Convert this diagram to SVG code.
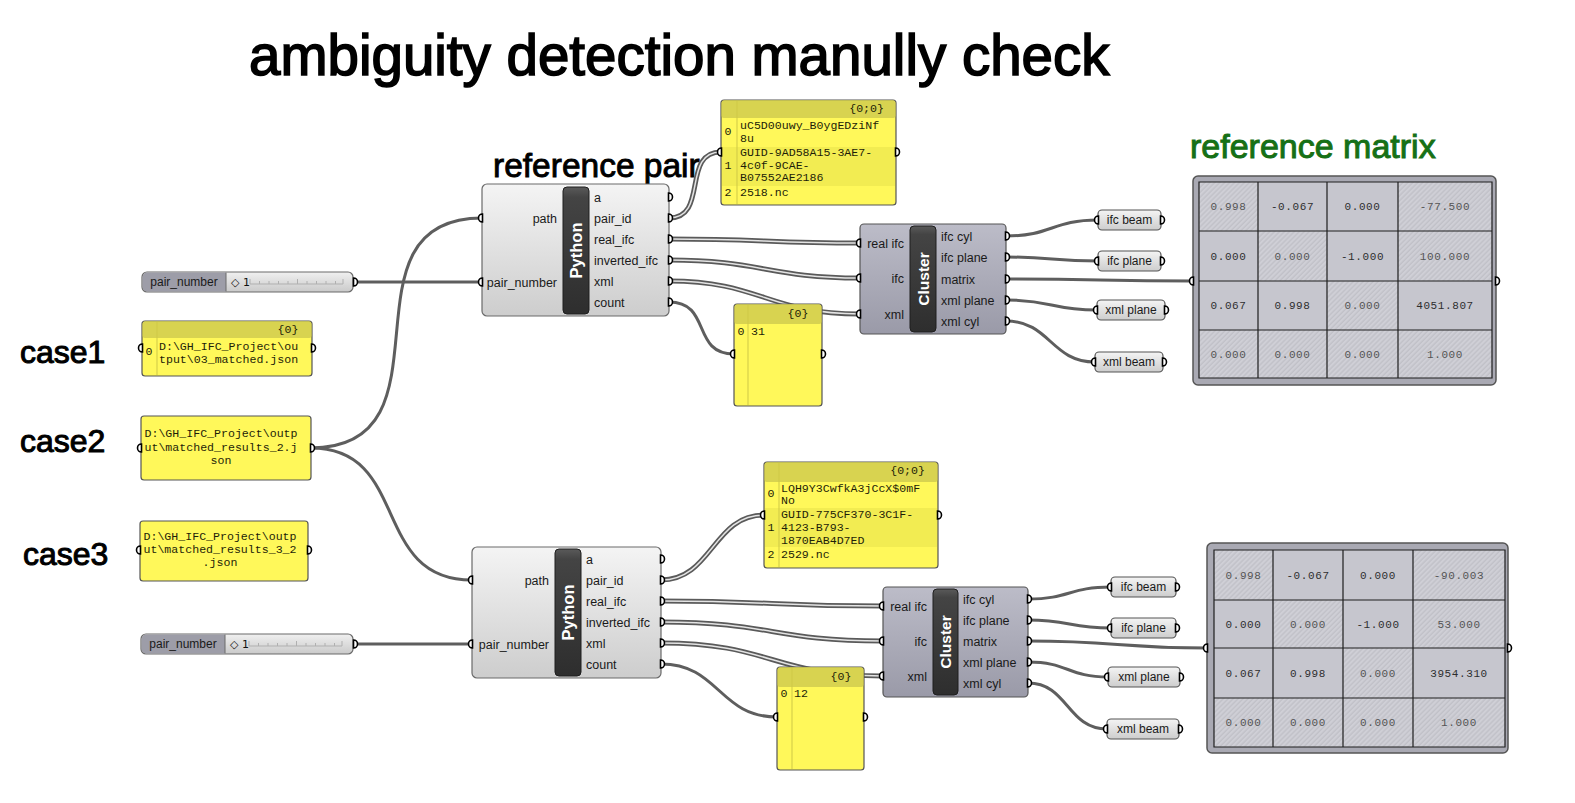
<svg xmlns="http://www.w3.org/2000/svg" width="1575" height="803" viewBox="0 0 1575 803">
<defs>
<style>
.ttl{font-family:"Liberation Sans",Arial,sans-serif;fill:#000;stroke:#000}
.lbl{font-family:"Liberation Sans",Arial,sans-serif;font-size:12.5px;fill:#1a1a1a}
.sm{font-family:"Liberation Sans",Arial,sans-serif;font-size:12px;fill:#1a1a1a}
.bar{font-family:"Liberation Sans",Arial,sans-serif;font-weight:bold;fill:#fff;text-anchor:middle}
.mono{font-family:"Liberation Mono","Courier New",monospace;font-size:11.6px;fill:#1e1e08}
.mx{font-family:"Liberation Mono","Courier New",monospace;font-size:11px;letter-spacing:0.6px;text-anchor:middle;fill:#2e2e2e}
.mxl{fill:#555}
.w{fill:none;stroke:#5e5e5e;stroke-width:3}
.wd1{fill:none;stroke:#5a5a5a;stroke-width:5}
.wd2{fill:none;stroke:#e4e4e4;stroke-width:1.5}
.comp{fill:url(#gComp);stroke:#6a6a6a;stroke-width:1.2}
.clus{fill:url(#gClus);stroke:#555;stroke-width:1.2}
.dbar{fill:url(#gBar);stroke:#1e1e1e;stroke-width:1}
.pan{fill:#fff85a;stroke:#555;stroke-width:1.2}
.hdr{fill:#d8d350}
.band{fill:#f2ec52}
.sep{stroke:#cfc947;stroke-width:1}
.box{fill:url(#gComp);stroke:#555;stroke-width:1.2}
.grid{fill:none;stroke:#1e1e1e;stroke-width:1.2}
.frame{fill:#a9a9b3;stroke:#555;stroke-width:1.5}
.plain{fill:#c6c6ce}
.hat{fill:url(#hatch)}
</style>
<linearGradient id="gComp" x1="0" y1="0" x2="0" y2="1"><stop offset="0" stop-color="#f4f4f4"/><stop offset="1" stop-color="#cdcdcd"/></linearGradient>
<linearGradient id="gClus" x1="0" y1="0" x2="0" y2="1"><stop offset="0" stop-color="#bcbcc8"/><stop offset="1" stop-color="#9a9aa8"/></linearGradient>
<linearGradient id="gBar" x1="0" y1="0" x2="0" y2="1"><stop offset="0" stop-color="#5a5a5a"/><stop offset="0.08" stop-color="#444"/><stop offset="1" stop-color="#2e2e2e"/></linearGradient>
<linearGradient id="gSl" x1="0" y1="0" x2="0" y2="1"><stop offset="0" stop-color="#f0f0f0"/><stop offset="1" stop-color="#cacaca"/></linearGradient>
<pattern id="hatch" width="3.5" height="3.5" patternUnits="userSpaceOnUse" patternTransform="rotate(45)"><rect width="3.5" height="3.5" fill="#cfcfd6"/><line x1="1" y1="0" x2="1" y2="3.5" stroke="#bbbbc3" stroke-width="1"/></pattern>
<path id="pi" d="M0.5,-4 A4,4 0 0 0 0.5,4 Z" fill="#fff" stroke="#000" stroke-width="1.6"/>
<path id="po" d="M-0.5,-4 A4,4 0 0 1 -0.5,4 Z" fill="#fff" stroke="#000" stroke-width="1.6"/>
</defs>
<rect width="1575" height="803" fill="#fff"/>

<g id="annotations">
<text class="ttl" x="249" y="75" font-size="56.5" stroke-width="1.6">ambiguity detection manully check</text>
<text class="ttl" x="493" y="177" font-size="33.5" stroke-width="0.9">reference pair</text>
<text x="1190" y="158" font-family="Liberation Sans,Arial,sans-serif" font-size="34" fill="#167016" stroke="#167016" stroke-width="1">reference matrix</text>
<text class="ttl" x="20" y="363" font-size="32" stroke-width="1">case1</text>
<text class="ttl" x="20" y="452" font-size="32" stroke-width="1">case2</text>
<text class="ttl" x="23" y="565" font-size="32" stroke-width="1">case3</text>
</g>

<g id="connectors">
<path class="w" d="M311,448 C461,448 332,218 482,218"/>
<path class="w" d="M311,448 C411,448 370,580 472,580"/>
<path class="w" d="M355,282 L482,282"/>
<path class="w" d="M353,644 L472,644"/>
<path class="w" d="M669,302 C712,302 691,354 734,354"/>
<path class="w" d="M661,664 C719,664 719,717 777,717"/>
<g>
<path class="wd1" d="M669,218 C709,218 681,152 721,152"/><path class="wd2" d="M669,218 C709,218 681,152 721,152"/>
<path class="wd1" d="M669,239 C760,239 769,243 860,243"/><path class="wd2" d="M669,239 C760,239 769,243 860,243"/>
<path class="wd1" d="M669,260 C760,260 769,278 860,278"/><path class="wd2" d="M669,260 C760,260 769,278 860,278"/>
<path class="wd1" d="M669,281 C760,281 769,314 860,314"/><path class="wd2" d="M669,281 C760,281 769,314 860,314"/>
<path class="wd1" d="M661,580 C712,580 713,515 764,515"/><path class="wd2" d="M661,580 C712,580 713,515 764,515"/>
<path class="wd1" d="M661,601 C772,601 772,606 883,606"/><path class="wd2" d="M661,601 C772,601 772,606 883,606"/>
<path class="wd1" d="M661,622 C772,622 772,641 883,641"/><path class="wd2" d="M661,622 C772,622 772,641 883,641"/>
<path class="wd1" d="M661,643 C772,643 772,676 883,676"/><path class="wd2" d="M661,643 C772,643 772,676 883,676"/>
</g>
<path class="w" d="M1006,236 C1052,236 1052,220 1098,220"/>
<path class="w" d="M1006,257 C1052,257 1052,261 1098,261"/>
<path class="w" d="M1006,279 C1100,279 1100,281 1193,281"/>
<path class="w" d="M1006,300 C1052,300 1051,310 1097,310"/>
<path class="w" d="M1006,321 C1050,321 1051,362 1095,362"/>
<path class="w" d="M1028,599 C1070,599 1069,587 1111,587"/>
<path class="w" d="M1028,620 C1070,620 1069,628 1111,628"/>
<path class="w" d="M1028,641 C1118,641 1117,648 1207,648"/>
<path class="w" d="M1028,662 C1068,662 1068,677 1108,677"/>
<path class="w" d="M1028,683 C1068,683 1067,729 1107,729"/>
</g>

<g id="slider1">
<rect x="142" y="272" width="211" height="20" rx="5" fill="url(#gSl)" stroke="#6a6a6a" stroke-width="1.2"/>
<path d="M147,272.6 H226 V291.4 H147 A4.4,4.4 0 0 1 142.6,287 V277 A4.4,4.4 0 0 1 147,272.6 Z" fill="#9d9da8"/>
<line x1="226" y1="272.6" x2="226" y2="291.4" stroke="#6a6a6a"/>
<text class="sm" x="184" y="286" text-anchor="middle">pair_number</text>
<text x="231" y="286" font-family="DejaVu Sans,Liberation Sans,sans-serif" font-size="11" fill="#111">◇ 1</text>
<path d="M250,284 H343 M250,279 V284 M259.5,281 V284 M269,281 V284 M278.5,281 V284 M288,281 V284 M297.5,279 V284 M307,281 V284 M316.5,281 V284 M326,281 V284 M335.5,281 V284 M343,279 V284" stroke="#b0b0b0" stroke-width="1" fill="none"/>
<use href="#po" x="354" y="282"/>
</g>
<g id="slider2">
<rect x="141" y="634" width="212" height="20" rx="5" fill="url(#gSl)" stroke="#6a6a6a" stroke-width="1.2"/>
<path d="M146,634.6 H225 V653.4 H146 A4.4,4.4 0 0 1 141.6,649 V639 A4.4,4.4 0 0 1 146,634.6 Z" fill="#9d9da8"/>
<line x1="225" y1="634.6" x2="225" y2="653.4" stroke="#6a6a6a"/>
<text class="sm" x="183" y="648" text-anchor="middle">pair_number</text>
<text x="230" y="648" font-family="DejaVu Sans,Liberation Sans,sans-serif" font-size="11" fill="#111">◇ 1</text>
<path d="M249,646 H342 M249,641 V646 M258.5,643 V646 M268,643 V646 M277.5,643 V646 M287,643 V646 M296.5,641 V646 M306,643 V646 M315.5,643 V646 M325,643 V646 M334.5,643 V646 M342,641 V646" stroke="#b0b0b0" stroke-width="1" fill="none"/>
<use href="#po" x="354" y="644"/>
</g>

<g id="case1">
<rect class="pan" x="142" y="321" width="170" height="55" rx="3"/>
<rect class="hdr" x="142.6" y="321.6" width="168.8" height="16.4" rx="2"/>
<line class="sep" x1="157" y1="322" x2="157" y2="375"/>
<text class="mono" x="288" y="333" text-anchor="middle" font-size="11">{0}</text>
<text class="mono" x="149" y="355" text-anchor="middle" font-size="10">0</text>
<text class="mono" x="159" y="350">D:\GH_IFC_Project\ou</text>
<text class="mono" x="159" y="363">tput\03_matched.json</text>
<use href="#pi" x="142" y="348"/><use href="#po" x="312" y="348"/>
</g>
<g id="case2">
<rect class="pan" x="141" y="416" width="170" height="64" rx="3"/>
<text class="mono" x="221" y="437" text-anchor="middle">D:\GH_IFC_Project\outp</text>
<text class="mono" x="221" y="451" text-anchor="middle">ut\matched_results_2.j</text>
<text class="mono" x="221" y="464" text-anchor="middle">son</text>
<use href="#pi" x="141" y="448"/><use href="#po" x="311" y="448"/>
</g>
<g id="case3">
<rect class="pan" x="140" y="521" width="168" height="60" rx="3"/>
<text class="mono" x="220" y="540" text-anchor="middle">D:\GH_IFC_Project\outp</text>
<text class="mono" x="220" y="553" text-anchor="middle">ut\matched_results_3_2</text>
<text class="mono" x="220" y="566" text-anchor="middle">.json</text>
<use href="#pi" x="140" y="550"/><use href="#po" x="308" y="550"/>
</g>

<g id="python1">
<rect class="comp" x="482" y="184" width="187" height="132" rx="5"/>
<rect class="dbar" x="563" y="187" width="26" height="127" rx="4"/>
<text class="bar" font-size="16.5" transform="translate(582,250.5) rotate(-90)">Python</text>
<text class="lbl" x="557" y="222.5" text-anchor="end">path</text>
<text class="lbl" x="557" y="286.5" text-anchor="end">pair_number</text>
<text class="lbl" x="594" y="201.5">a</text>
<text class="lbl" x="594" y="222.5">pair_id</text>
<text class="lbl" x="594" y="243.5">real_ifc</text>
<text class="lbl" x="594" y="264.5">inverted_ifc</text>
<text class="lbl" x="594" y="285.5">xml</text>
<text class="lbl" x="594" y="306.5">count</text>
<use href="#pi" x="482" y="218"/><use href="#pi" x="482" y="282"/>
<use href="#po" x="669" y="197"/><use href="#po" x="669" y="218"/><use href="#po" x="669" y="239"/><use href="#po" x="669" y="260"/><use href="#po" x="669" y="281"/><use href="#po" x="669" y="302"/>
</g>

<g id="python2">
<rect class="comp" x="472" y="547" width="189" height="131" rx="5"/>
<rect class="dbar" x="555" y="549" width="26" height="127" rx="4"/>
<text class="bar" font-size="16.5" transform="translate(574,612.5) rotate(-90)">Python</text>
<text class="lbl" x="549" y="584.5" text-anchor="end">path</text>
<text class="lbl" x="549" y="648.5" text-anchor="end">pair_number</text>
<text class="lbl" x="586" y="563.5">a</text>
<text class="lbl" x="586" y="584.5">pair_id</text>
<text class="lbl" x="586" y="605.5">real_ifc</text>
<text class="lbl" x="586" y="626.5">inverted_ifc</text>
<text class="lbl" x="586" y="647.5">xml</text>
<text class="lbl" x="586" y="668.5">count</text>
<use href="#pi" x="472" y="580"/><use href="#pi" x="472" y="644"/>
<use href="#po" x="661" y="559"/><use href="#po" x="661" y="580"/><use href="#po" x="661" y="601"/><use href="#po" x="661" y="622"/><use href="#po" x="661" y="643"/><use href="#po" x="661" y="664"/>
</g>

<g id="pairPanel1">
<rect class="pan" x="721" y="100" width="175" height="105" rx="3"/>
<rect class="hdr" x="721.6" y="100.6" width="173.8" height="17.4" rx="2"/>
<rect class="band" x="722" y="147" width="173" height="39"/>
<line class="sep" x1="737" y1="101" x2="737" y2="204"/>
<text class="mono" x="884" y="112" text-anchor="end" font-size="11">{0;0}</text>
<text class="mono" x="728" y="135" text-anchor="middle" font-size="10">0</text>
<text class="mono" x="740" y="129">uC5D00uwy_B0ygEDziNf</text>
<text class="mono" x="740" y="142">8u</text>
<text class="mono" x="728" y="169" text-anchor="middle" font-size="10">1</text>
<text class="mono" x="740" y="156">GUID-9AD58A15-3AE7-</text>
<text class="mono" x="740" y="169">4c0f-9CAE-</text>
<text class="mono" x="740" y="181">B07552AE2186</text>
<text class="mono" x="728" y="196" text-anchor="middle" font-size="10">2</text>
<text class="mono" x="740" y="196">2518.nc</text>
<use href="#pi" x="721" y="152"/><use href="#po" x="896" y="152"/>
</g>

<g id="pairPanel2">
<rect class="pan" x="764" y="462" width="174" height="106" rx="3"/>
<rect class="hdr" x="764.6" y="462.6" width="172.8" height="19.4" rx="2"/>
<rect class="band" x="765" y="508" width="172" height="39"/>
<line class="sep" x1="779" y1="463" x2="779" y2="567"/>
<text class="mono" x="925" y="474" text-anchor="end" font-size="11">{0;0}</text>
<text class="mono" x="771" y="497" text-anchor="middle" font-size="10">0</text>
<text class="mono" x="781" y="492">LQH9Y3CwfkA3jCcX$0mF</text>
<text class="mono" x="781" y="504">No</text>
<text class="mono" x="771" y="531" text-anchor="middle" font-size="10">1</text>
<text class="mono" x="781" y="518">GUID-775CF370-3C1F-</text>
<text class="mono" x="781" y="531">4123-B793-</text>
<text class="mono" x="781" y="544">1870EAB4D7ED</text>
<text class="mono" x="771" y="558" text-anchor="middle" font-size="10">2</text>
<text class="mono" x="781" y="558">2529.nc</text>
<use href="#pi" x="764" y="515"/><use href="#po" x="938" y="515"/>
</g>

<g id="countPanel1">
<rect class="pan" x="734" y="304" width="88" height="102" rx="3"/>
<rect class="hdr" x="734.6" y="304.6" width="86.8" height="19.4" rx="2"/>
<line class="sep" x1="748" y1="305" x2="748" y2="405"/>
<text class="mono" x="798" y="317" text-anchor="middle" font-size="11">{0}</text>
<text class="mono" x="741" y="335" text-anchor="middle" font-size="10">0</text>
<text class="mono" x="751" y="335">31</text>
<use href="#pi" x="734" y="354"/><use href="#po" x="822" y="354"/>
</g>
<g id="countPanel2">
<rect class="pan" x="777" y="667" width="87" height="103" rx="3"/>
<rect class="hdr" x="777.6" y="667.6" width="85.8" height="19.4" rx="2"/>
<line class="sep" x1="792" y1="668" x2="792" y2="769"/>
<text class="mono" x="841" y="680" text-anchor="middle" font-size="11">{0}</text>
<text class="mono" x="784" y="697" text-anchor="middle" font-size="10">0</text>
<text class="mono" x="794" y="697">12</text>
<use href="#pi" x="777" y="717"/><use href="#po" x="864" y="717"/>
</g>

<g id="cluster1">
<rect class="clus" x="860" y="224" width="146" height="110" rx="4"/>
<rect class="dbar" x="910" y="226" width="26" height="106" rx="4"/>
<text class="bar" font-size="15.5" transform="translate(928.5,279) rotate(-90)">Cluster</text>
<text class="lbl" x="904" y="247.5" text-anchor="end">real ifc</text>
<text class="lbl" x="904" y="282.5" text-anchor="end">ifc</text>
<text class="lbl" x="904" y="318.5" text-anchor="end">xml</text>
<text class="lbl" x="941" y="240.5">ifc cyl</text>
<text class="lbl" x="941" y="261.5">ifc plane</text>
<text class="lbl" x="941" y="283.5">matrix</text>
<text class="lbl" x="941" y="304.5">xml plane</text>
<text class="lbl" x="941" y="325.5">xml cyl</text>
<use href="#pi" x="860" y="243"/><use href="#pi" x="860" y="278"/><use href="#pi" x="860" y="314"/>
<use href="#po" x="1006" y="236"/><use href="#po" x="1006" y="257"/><use href="#po" x="1006" y="279"/><use href="#po" x="1006" y="300"/><use href="#po" x="1006" y="321"/>
</g>
<g id="cluster2">
<rect class="clus" x="883" y="587" width="145" height="110" rx="4"/>
<rect class="dbar" x="933" y="589" width="25" height="106" rx="4"/>
<text class="bar" font-size="15.5" transform="translate(951,642) rotate(-90)">Cluster</text>
<text class="lbl" x="927" y="610.5" text-anchor="end">real ifc</text>
<text class="lbl" x="927" y="645.5" text-anchor="end">ifc</text>
<text class="lbl" x="927" y="680.5" text-anchor="end">xml</text>
<text class="lbl" x="963" y="603.5">ifc cyl</text>
<text class="lbl" x="963" y="624.5">ifc plane</text>
<text class="lbl" x="963" y="645.5">matrix</text>
<text class="lbl" x="963" y="666.5">xml plane</text>
<text class="lbl" x="963" y="687.5">xml cyl</text>
<use href="#pi" x="883" y="606"/><use href="#pi" x="883" y="641"/><use href="#pi" x="883" y="676"/>
<use href="#po" x="1028" y="599"/><use href="#po" x="1028" y="620"/><use href="#po" x="1028" y="641"/><use href="#po" x="1028" y="662"/><use href="#po" x="1028" y="683"/>
</g>

<g id="ifcBeam1"><rect class="box" x="1098" y="210" width="63" height="20" rx="4"/><text class="sm" x="1129.5" y="224" text-anchor="middle">ifc beam</text><use href="#pi" x="1098" y="220"/><use href="#po" x="1161" y="220"/></g>
<g id="ifcPlane1"><rect class="box" x="1098" y="251" width="63" height="20" rx="4"/><text class="sm" x="1129.5" y="265" text-anchor="middle">ifc plane</text><use href="#pi" x="1098" y="261"/><use href="#po" x="1161" y="261"/></g>
<g id="xmlPlane1"><rect class="box" x="1097" y="300" width="68" height="20" rx="4"/><text class="sm" x="1131" y="314" text-anchor="middle">xml plane</text><use href="#pi" x="1097" y="310"/><use href="#po" x="1165" y="310"/></g>
<g id="xmlBeam1"><rect class="box" x="1095" y="352" width="68" height="20" rx="4"/><text class="sm" x="1129" y="366" text-anchor="middle">xml beam</text><use href="#pi" x="1095" y="362"/><use href="#po" x="1163" y="362"/></g>
<g id="ifcBeam2"><rect class="box" x="1111" y="577" width="65" height="20" rx="4"/><text class="sm" x="1143.5" y="591" text-anchor="middle">ifc beam</text><use href="#pi" x="1111" y="587"/><use href="#po" x="1176" y="587"/></g>
<g id="ifcPlane2"><rect class="box" x="1111" y="618" width="65" height="20" rx="4"/><text class="sm" x="1143.5" y="632" text-anchor="middle">ifc plane</text><use href="#pi" x="1111" y="628"/><use href="#po" x="1176" y="628"/></g>
<g id="xmlPlane2"><rect class="box" x="1108" y="667" width="72" height="20" rx="4"/><text class="sm" x="1144" y="681" text-anchor="middle">xml plane</text><use href="#pi" x="1108" y="677"/><use href="#po" x="1180" y="677"/></g>
<g id="xmlBeam2"><rect class="box" x="1107" y="719" width="72" height="20" rx="4"/><text class="sm" x="1143" y="733" text-anchor="middle">xml beam</text><use href="#pi" x="1107" y="729"/><use href="#po" x="1179" y="729"/></g>

<g id="matrix1">
<rect class="frame" x="1193" y="176" width="303" height="209" rx="5"/>
<rect class="hat" x="1199" y="182" width="59" height="49"/><rect class="plain" x="1258" y="182" width="69" height="49"/><rect class="plain" x="1327" y="182" width="71" height="49"/><rect class="hat" x="1398" y="182" width="94" height="49"/>
<rect class="plain" x="1199" y="231" width="59" height="50"/><rect class="hat" x="1258" y="231" width="69" height="50"/><rect class="plain" x="1327" y="231" width="71" height="50"/><rect class="hat" x="1398" y="231" width="94" height="50"/>
<rect class="plain" x="1199" y="281" width="59" height="49"/><rect class="plain" x="1258" y="281" width="69" height="49"/><rect class="hat" x="1327" y="281" width="71" height="49"/><rect class="plain" x="1398" y="281" width="94" height="49"/>
<rect class="hat" x="1199" y="330" width="59" height="48"/><rect class="hat" x="1258" y="330" width="69" height="48"/><rect class="hat" x="1327" y="330" width="71" height="48"/><rect class="hat" x="1398" y="330" width="94" height="48"/>
<path class="grid" d="M1199,182 H1492 V378 H1199 Z M1258,182 V378 M1327,182 V378 M1398,182 V378 M1199,231 H1492 M1199,281 H1492 M1199,330 H1492"/>
<text class="mx mxl" x="1228.5" y="210">0.998</text><text class="mx" x="1292.5" y="210">-0.067</text><text class="mx" x="1362.5" y="210">0.000</text><text class="mx mxl" x="1445" y="210">-77.500</text>
<text class="mx" x="1228.5" y="260">0.000</text><text class="mx mxl" x="1292.5" y="260">0.000</text><text class="mx" x="1362.5" y="260">-1.000</text><text class="mx mxl" x="1445" y="260">100.000</text>
<text class="mx" x="1228.5" y="309">0.067</text><text class="mx" x="1292.5" y="309">0.998</text><text class="mx mxl" x="1362.5" y="309">0.000</text><text class="mx" x="1445" y="309">4051.807</text>
<text class="mx mxl" x="1228.5" y="358">0.000</text><text class="mx mxl" x="1292.5" y="358">0.000</text><text class="mx mxl" x="1362.5" y="358">0.000</text><text class="mx mxl" x="1445" y="358">1.000</text>
<use href="#pi" x="1193" y="281"/><use href="#po" x="1496" y="281"/>
</g>

<g id="matrix2">
<rect class="frame" x="1207" y="543" width="301" height="210" rx="5"/>
<rect class="hat" x="1214" y="550" width="59" height="50"/><rect class="plain" x="1273" y="550" width="70" height="50"/><rect class="plain" x="1343" y="550" width="70" height="50"/><rect class="hat" x="1413" y="550" width="92" height="50"/>
<rect class="plain" x="1214" y="600" width="59" height="48"/><rect class="hat" x="1273" y="600" width="70" height="48"/><rect class="plain" x="1343" y="600" width="70" height="48"/><rect class="hat" x="1413" y="600" width="92" height="48"/>
<rect class="plain" x="1214" y="648" width="59" height="50"/><rect class="plain" x="1273" y="648" width="70" height="50"/><rect class="hat" x="1343" y="648" width="70" height="50"/><rect class="plain" x="1413" y="648" width="92" height="50"/>
<rect class="hat" x="1214" y="698" width="59" height="49"/><rect class="hat" x="1273" y="698" width="70" height="49"/><rect class="hat" x="1343" y="698" width="70" height="49"/><rect class="hat" x="1413" y="698" width="92" height="49"/>
<path class="grid" d="M1214,550 H1505 V747 H1214 Z M1273,550 V747 M1343,550 V747 M1413,550 V747 M1214,600 H1505 M1214,648 H1505 M1214,698 H1505"/>
<text class="mx mxl" x="1243.5" y="579">0.998</text><text class="mx" x="1308" y="579">-0.067</text><text class="mx" x="1378" y="579">0.000</text><text class="mx mxl" x="1459" y="579">-90.003</text>
<text class="mx" x="1243.5" y="628">0.000</text><text class="mx mxl" x="1308" y="628">0.000</text><text class="mx" x="1378" y="628">-1.000</text><text class="mx mxl" x="1459" y="628">53.000</text>
<text class="mx" x="1243.5" y="677">0.067</text><text class="mx" x="1308" y="677">0.998</text><text class="mx mxl" x="1378" y="677">0.000</text><text class="mx" x="1459" y="677">3954.310</text>
<text class="mx mxl" x="1243.5" y="726">0.000</text><text class="mx mxl" x="1308" y="726">0.000</text><text class="mx mxl" x="1378" y="726">0.000</text><text class="mx mxl" x="1459" y="726">1.000</text>
<use href="#pi" x="1207" y="648"/><use href="#po" x="1508" y="648"/>
</g>
</svg>
